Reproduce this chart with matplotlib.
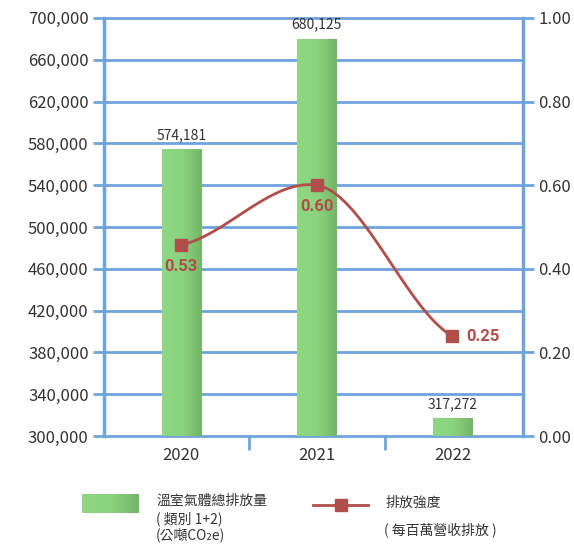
import numpy as np
import matplotlib
matplotlib.use("Agg")
from matplotlib import pyplot as plt
from matplotlib.lines import Line2D

plt.rcParams["font.family"] = ["Noto Sans CJK TC", "DejaVu Sans"]

# data
years = ["2020", "2021", "2022"]
emissions = [574181, 680125, 317272]
emission_labels = ["574,181", "680,125", "317,272"]
intensity = [0.457, 0.60, 0.239]          # where the markers sit on the right axis
intensity_labels = ["0.53", "0.60", "0.25"]  # what the chart prints next to them

blue = "#6fa3dc"
red = "#b24e4a"
text_col = "#333333"

fig = plt.figure(figsize=(5.74, 5.44), dpi=100)
ax = fig.add_axes([0.181, 0.1985, 0.730, 0.7685])
ax2 = ax.twinx()

x = np.arange(len(years))
ax.set_xlim(-0.57, 2.52)
ax.set_ylim(300000, 700000)
ax2.set_ylim(0, 1.0)

# grid lines every 40,000
for v in np.arange(300000, 700001, 40000):
    ax.axhline(v, color=blue, lw=2, zorder=1, clip_on=False)

# bars with a left-to-right green gradient
grad = np.linspace(0, 1, 64).reshape(1, -1)
cmap = matplotlib.colors.LinearSegmentedColormap.from_list(
    "g", ["#8fd783", "#8bd47f", "#74b566"])
bw = 0.29
for xi, v, lab in zip(x, emissions, emission_labels):
    bar = ax.bar(xi, v - 300000, bottom=300000, width=bw, color="#8fd783",
                 zorder=2)[0]
    im = ax.imshow(grad, extent=[xi - bw / 2, xi + bw / 2, 300000, v],
                   aspect="auto", cmap=cmap, zorder=3)
    im.set_clip_path(bar)
    ax.annotate(lab, (xi, v), xytext=(0, 5), textcoords="offset points",
                ha="center", va="bottom", fontsize=10, color=text_col,
                zorder=4)

# smoothed intensity line (cubic hermite through the three points)
m = [0.5 * (intensity[1] - intensity[0]),
     0.22 * (intensity[2] - intensity[0]),
     0.5 * (intensity[2] - intensity[1])]
xs, ys = [], []
for i in range(len(x) - 1):
    t = np.linspace(0, 1, 60)
    h00 = 2 * t**3 - 3 * t**2 + 1
    h10 = t**3 - 2 * t**2 + t
    h01 = -2 * t**3 + 3 * t**2
    h11 = t**3 - t**2
    xs.extend(x[i] + t)
    ys.extend(h00 * intensity[i] + h10 * m[i] + h01 * intensity[i + 1]
              + h11 * m[i + 1])
ax2.plot(xs, ys, color=red, lw=2, zorder=5)
ax2.plot(x, intensity, "s", color=red, ms=8, zorder=6)
offsets = [(0, -10, "center", "top"), (0, -10, "center", "top"),
           (10, 0, "left", "center")]
for xi, v, lab, (dx, dy, ha, va) in zip(x, intensity, intensity_labels, offsets):
    ax2.annotate(lab, (xi, v), xytext=(dx, dy), textcoords="offset points",
                 ha=ha, va=va, fontsize=12, fontweight="bold", color=red,
                 family=["Roboto", "DejaVu Sans"])

# axes styling
for s in ["top", "bottom"]:
    ax.spines[s].set_visible(False)
    ax2.spines[s].set_visible(False)
ax.spines["left"].set_color(blue)
ax.spines["left"].set_linewidth(2.5)
ax.spines["right"].set_visible(False)
ax2.spines["left"].set_visible(False)
ax2.spines["right"].set_color(blue)
ax2.spines["right"].set_linewidth(2.5)

ax.set_yticks(np.arange(300000, 700001, 40000))
ax.set_yticklabels([f"{v:,}" for v in range(300000, 700001, 40000)])
ax.tick_params(axis="y", length=8, width=2, color=blue, labelsize=12,
               labelcolor=text_col, pad=3)
ax2.set_yticks(np.arange(0, 1.01, 0.2))
ax2.set_yticklabels([f"{v:.2f}" for v in np.arange(0, 1.01, 0.2)])
ax2.tick_params(axis="y", length=8, width=2, color=blue, labelsize=12,
                labelcolor=text_col, pad=3)

# category axis: ticks between the years
ax.set_xticks([0.5, 1.5])
ax.set_xticklabels([])
ax.set_xticks(x, minor=True)
ax.set_xticklabels(years, minor=True)
ax.tick_params(axis="x", which="major", length=10, width=2, color=blue)
ax.tick_params(axis="x", which="minor", length=0, labelsize=12,
               labelcolor=text_col, pad=8)

# legend drawn by hand under the plot
W, H = 574, 544


def fx(px):
    return px / W


def fy(py):
    return 1 - py / H


lg = np.linspace(0, 1, 64).reshape(1, -1)
lax = fig.add_axes([fx(82), fy(513), fx(139) - fx(82), fy(494) - fy(513)])
lax.imshow(lg, cmap=cmap, aspect="auto")
lax.axis("off")
fig.text(fx(156), fy(501), "溫室氣體總排放量", fontsize=10, color=text_col,
         va="center")
fig.text(fx(156), fy(519), "( 類別 1+2)", fontsize=10, color=text_col,
         va="center")
fig.text(fx(156), fy(535), "(公噸CO₂e)", fontsize=10, color=text_col,
         va="center")
fig.add_artist(Line2D([fx(313), fx(368)], [fy(505), fy(505)], color=red,
                      lw=2))
fig.add_artist(Line2D([fx(341)], [fy(505)], marker="s", color=red, ms=8))
fig.text(fx(386), fy(503), "排放強度", fontsize=10, color=text_col,
         va="center")
fig.text(fx(384), fy(531), "( 每百萬營收排放 )", fontsize=10, color=text_col,
         va="center")

fig.savefig("out.png", dpi=100)
